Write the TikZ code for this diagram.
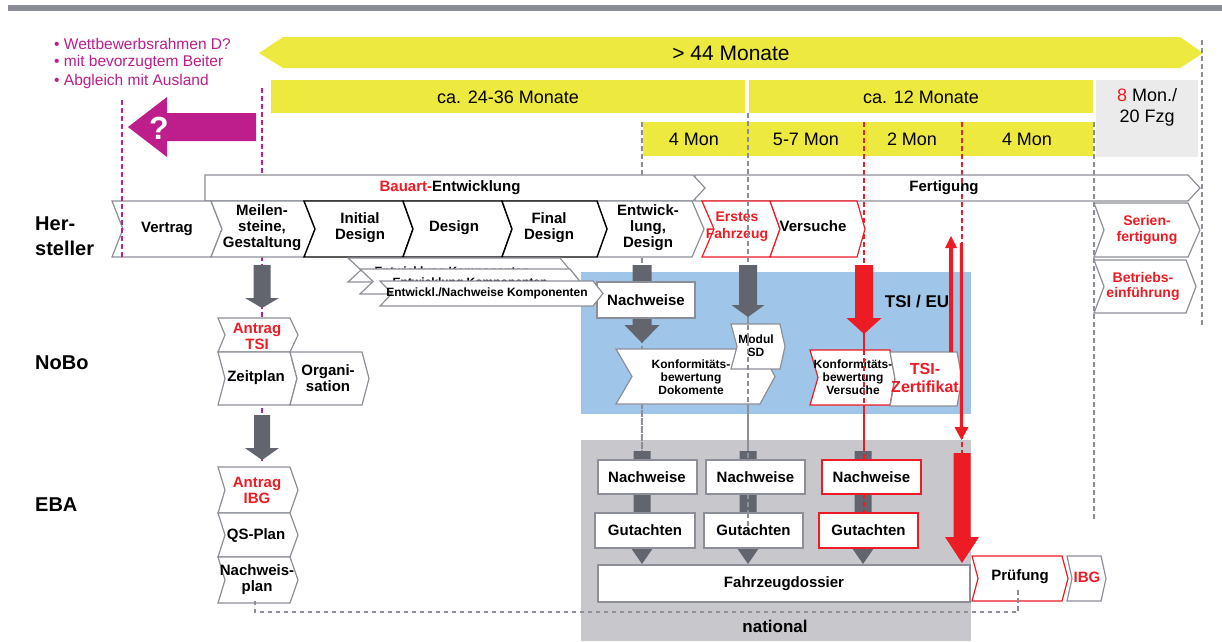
\documentclass[tikz,border=0pt]{standalone}
\usepackage{fontspec}
\setmainfont{Liberation Sans}
\definecolor{topgray}{HTML}{8A8C94}
\definecolor{yellowc}{HTML}{EEE93E}
\definecolor{grayboxc}{HTML}{EBEBEB}
\definecolor{tsiblue}{HTML}{9FC5E8}
\definecolor{natgray}{HTML}{C8C8CC}
\definecolor{arrgray}{HTML}{62656E}
\definecolor{redc}{HTML}{ED1C24}
\definecolor{magc}{HTML}{BD1E8C}
\definecolor{outl}{HTML}{8C8F97}
\newcommand{\fsz}[2]{\fontsize{#1}{#2}\selectfont}
% chevron: style, x1, x2, ytop, ybot, tip depth, notch depth
\newcommand{\chv}[7]{\filldraw[#1] (#2,#4) -- (#3,#4) -- ({#3+#6},{(#4+#5)/2}) -- (#3,#5) -- (#2,#5) -- ({#2+#7},{(#4+#5)/2}) -- cycle;}
% block arrow: style, xc, ytop, yheadbase, ytip, shaft half, head half
\newcommand{\blkarrow}[7]{\fill[#1] ({#2-#6},#3) -- ({#2+#6},#3) -- ({#2+#6},#4) -- ({#2+#7},#4) -- (#2,#5) -- ({#2-#7},#4) -- ({#2-#6},#4) -- cycle;}
\tikzset{
  lab/.style={inner sep=0, align=center, font=\bfseries\fsz{15}{16}},
  labs/.style={inner sep=0, align=center, font=\bfseries\fsz{12}{13.3}},
  ytxt/.style={inner sep=0, align=center, font=\fsz{18}{21}},
  side/.style={inner sep=0, align=left, anchor=west, font=\bfseries\fsz{20}{25}},
  bul/.style={inner sep=0, anchor=west, text=magc, font=\fsz{15.5}{18}},
  gchev/.style={draw=outl, fill=white, line width=1.2pt, line join=miter},
  bchev/.style={draw=black, fill=white, line width=1.4pt, line join=miter},
  rchev/.style={draw=redc, fill=white, line width=1.2pt, line join=miter},
  gbox/.style={draw=outl, fill=white, line width=1.2pt},
  rbox/.style={draw=redc, fill=white, line width=1.2pt},
  gdash/.style={draw=outl, line width=1.2pt, dash pattern=on 4.5pt off 3.5pt},
  rdash/.style={draw=redc, line width=1.2pt, dash pattern=on 4.5pt off 3.5pt},
  mdash/.style={draw=magc, line width=1.2pt, dash pattern=on 4.5pt off 3.5pt}
}
\begin{document}
\begin{tikzpicture}[x=1pt,y=-1pt]
\useasboundingbox (0,0) rectangle (1222,641);
\fill[white] (0,0) rectangle (1222,641);
\fill[topgray] (8,5) rectangle (1222,10.5);

% regions
\fill[tsiblue] (581,272) rectangle (971,414);
\fill[natgray] (581,440) rectangle (971,641);

% yellow timeline
\fill[yellowc] (259,53) -- (283,37) -- (1180,37) -- (1203,53) -- (1180,68) -- (283,68) -- cycle;
\fill[yellowc] (271,80) rectangle (745,113);
\fill[yellowc] (749,80) rectangle (1093,113);
\fill[grayboxc] (1096,80) rectangle (1198,157);
\fill[yellowc] (643,122) rectangle (1093,156);
\node[inner sep=0, font=\fsz{21}{24}] (t44) at (731,53) {> 44 Monate};
\node[ytxt] (tca24) at (508,97) {ca. 24-36 Monate};
\node[ytxt] (tca12) at (921,97) {ca. 12 Monate};
\node[ytxt] (t8mon) at (1147,107) {\textcolor{redc}{8} Mon./\\20 Fzg};
\node[ytxt] (tm1) at (694,139) {4 Mon};
\node[ytxt] (tm2) at (806,139) {5-7 Mon};
\node[ytxt] (tm3) at (912,139) {2 Mon};
\node[ytxt] (tm4) at (1027,139) {4 Mon};

% magenta notes
\node[bul] (b1) at (54,44) {• Wettbewerbsrahmen D?};
\node[bul] (b2) at (54,62) {• mit bevorzugtem Beiter};
\node[bul] (b3) at (54,81) {• Abgleich mit Ausland};
\fill[magc] (128,127) -- (167,97) -- (167,113) -- (256,113) -- (256,141) -- (167,141) -- (167,157) -- cycle;
\node[inner sep=0, text=white, font=\bfseries\fsz{32}{34}] (q) at (159,128) {?};

% dashed guide lines (lower layer)
\draw[mdash] (262,88) -- (262,463);
\draw[gdash] (642,122) -- (642,460);
\draw[gdash] (748,113) -- (748,530);
\draw[rdash] (864,122) -- (864,540);
\draw[rdash] (962,122) -- (962,453);
\draw[gdash] (1094,122) -- (1094,522);
\draw[gdash] (1202,40) -- (1202,325);

% phase bars
\draw[draw=outl, line width=1.2pt, line join=miter] (695,175) -- (1188,175) -- (1200,188) -- (1188,201) -- (695,201) -- cycle;
\filldraw[gchev] (205,175) -- (693,175) -- (705,188) -- (693,201) -- (205,201) -- cycle;
\node[lab] (bauart) at (450,188) {\textcolor{redc}{Bauart-}Entwicklung};
\node[lab] (fert) at (944,188) {Fertigung};

% Hersteller row
\chv{gchev}{112}{211}{201}{257}{11}{11}
\chv{gchev}{211}{304}{201}{257}{11}{11}
\chv{gchev}{597}{692}{201}{257}{12}{10}
\chv{rchev}{702}{770}{201}{257}{10}{12}
\chv{rchev}{770}{857}{201}{257}{8}{10}
\chv{bchev}{304}{403}{201}{257}{10}{11}
\chv{bchev}{403}{502}{201}{257}{10}{10}
\chv{bchev}{502}{597}{201}{257}{10}{10}
\chv{gchev}{1094}{1188}{203}{257}{12}{10}
\chv{gchev}{1094}{1186}{260}{313}{10}{10}
\node[lab] (vertrag) at (167,229) {Vertrag};
\node[lab] (meilen) at (262,228) {Meilen-\\steine,\\Gestaltung};
\node[lab] (initial) at (360,228) {Initial\\Design};
\node[lab] (design) at (454,228) {Design};
\node[lab] (final) at (549,228) {Final\\Design};
\node[lab] (entw) at (648,228) {Entwick-\\lung,\\Design};
\node[lab, text=redc, font=\bfseries\fsz{14}{17}] (erstes) at (737,227) {Erstes\\Fahrzeug};
\node[lab] (versuche) at (813,226) {Versuche};
\node[lab, text=redc, font=\bfseries\fsz{14}{16}] (serien) at (1147,230) {Serien-\\fertigung};
\node[lab, text=redc, font=\bfseries\fsz{14}{15}] (betrieb) at (1143,286) {Betriebs-\\einführung};

% side labels
\node[side] (hersteller) at (35,236) {Her-\\steller};
\node[side] (nobo) at (35,363) {NoBo};
\node[side] (eba) at (35,505) {EBA};

% block arrows (grey)
\blkarrow{arrgray}{262}{265}{298}{308}{8.5}{17}
\blkarrow{arrgray}{262}{415}{448}{460}{8}{17}
\blkarrow{arrgray}{642}{265}{325}{343}{9.5}{17.5}
\blkarrow{arrgray}{748}{265}{305}{317}{9}{16.5}
\blkarrow{redc}{864}{265}{318}{334}{9}{17.5}

% NoBo Nachweise
\draw[gbox] (597,282) rectangle (695,318);
\node[lab] (nbnach) at (646,300) {Nachweise};

% component stack (partly hidden behind each other, as in the reference)
\chv{gchev}{348}{560}{258}{282}{10}{13}
\node[labs] (komp1) at (452,272.5) {Entwicklung Komponenten};
\chv{gchev}{360}{570}{269}{294}{10}{13}
\node[labs] (komp2) at (470,283.5) {Entwicklung Komponenten};
\chv{gchev}{380}{593}{281}{306}{10}{12}
\node[labs] (komp3) at (487,293.5) {Entwickl./Nachweise Komponenten};

% NoBo left column
\chv{gchev}{218}{290}{318}{352}{8}{7}
\chv{gchev}{218}{290}{352}{405}{7}{7}
\chv{gchev}{290}{362}{352}{405}{7}{7}
\node[lab, text=redc] (antsi) at (257,336) {Antrag\\TSI};
\node[lab] (zeitplan) at (256,378) {Zeitplan};
\node[lab] (orga) at (328,378) {Organi-\\sation};

% EBA left column
\chv{gchev}{218}{290}{467}{513}{8}{7}
\chv{gchev}{218}{290}{513}{557}{8}{7}
\chv{gchev}{218}{290}{557}{603}{8}{7}
\node[lab, text=redc] (anibg) at (257,490) {Antrag\\IBG};
\node[lab] (qsplan) at (256,536) {QS-Plan};
\node[lab] (nwplan) at (257,580) {Nachweis-\\plan};

% TSI / EU area
\chv{gchev}{616}{760}{349}{404}{15}{16}
\node[labs] (konfdok) at (691,377) {Konformitäts-\\bewertung\\Dokomente};
\chv{gchev}{731}{780}{324}{369}{5}{6}
\node[labs, font=\bfseries\fsz{12}{13}] (modul) at (756,346) {Modul\\SD};
\chv{rchev}{810}{890}{350}{405}{5}{8}
\node[labs] (konfvers) at (853,377) {Konformitäts-\\bewertung\\Versuche};
\chv{gchev}{890}{957}{352}{406}{5}{5}
\node[lab, text=redc, font=\bfseries\fsz{16}{18}] (tsiz) at (925,378) {TSI-\\Zertifikat};
\node[inner sep=0, font=\bfseries\fsz{17}{20}] (tsieu) at (917,302) {TSI / EU};

% national column arrows
\blkarrow{arrgray}{642}{451}{548}{564}{8.5}{11}
\blkarrow{arrgray}{748}{451}{548}{564}{8.5}{11}
\blkarrow{arrgray}{863}{451}{548}{564}{8.5}{11}

% upper dashed layer
\draw[mdash] (122,100) -- (122,260);
\draw[gdash] (748,113) -- (748,265);
\draw[gdash] (748,317) -- (748,460);
\draw[gdash] (748,494) -- (748,530);
\draw[rdash] (864,334) -- (864,460);
\draw[rdash] (864,494) -- (864,513);
\draw[gdash] (642,404) -- (642,451);

% national boxes
\draw[gbox] (598,460) rectangle (697,494);
\draw[gbox] (595,513) rectangle (695,548);
\draw[gbox] (706,460) rectangle (805,494);
\draw[gbox] (704,513) rectangle (803,548);
\draw[rbox] (822,460) rectangle (921,494);
\draw[rbox] (819,513) rectangle (918,548);
\draw[gdash] (748,513) -- (748,530);
\draw[gbox] (598,565) rectangle (970,602);
\node[lab] (n1) at (647,477) {Nachweise};
\node[lab] (g1) at (645,530.5) {Gutachten};
\node[lab] (n2) at (755.5,477) {Nachweise};
\node[lab] (g2) at (753.5,530.5) {Gutachten};
\node[lab] (n3) at (871.5,477) {Nachweise};
\node[lab] (g3) at (868.5,530.5) {Gutachten};
\node[lab] (dossier) at (784,584) {Fahrzeugdossier};
\node[inner sep=0, font=\bfseries\fsz{17}{20}] (national) at (775,626) {national};

% Pruefung / IBG
\chv{rchev}{972}{1062}{556}{601}{6}{6}
\chv{gchev}{1067}{1101}{556}{601}{5}{5}
\node[lab] (pruef) at (1020,577) {Prüfung};
\node[lab, text=redc] (ibg) at (1087,577) {IBG};
\coordinate (dA) at (1018,590);
\coordinate (dB) at (1018,612);
\coordinate (dC) at (255,612);
\coordinate (dD) at (255,598);
\draw[gdash] (dA) -- (dB) -- (dC) -- (dD);

% red arrows
\blkarrow{redc}{951}{352}{248}{236}{2}{6}
\blkarrow{redc}{961.5}{243}{427}{440}{1.7}{7}
\blkarrow{redc}{962}{453}{537}{563}{8.5}{17}
\end{tikzpicture}
\end{document}
